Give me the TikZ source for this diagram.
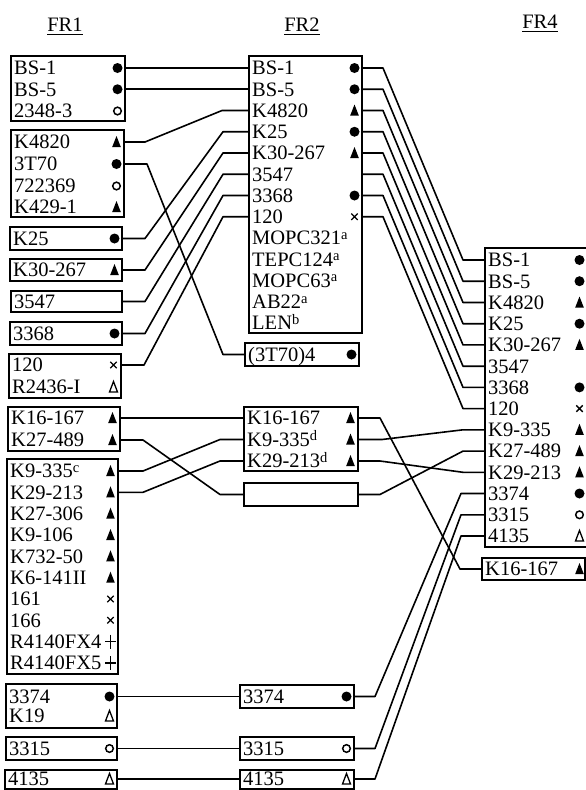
\documentclass[tikz,border=0pt]{standalone}
\usepackage{fontspec}
\setmainfont{Liberation Serif}
\tikzset{
 frame/.style={draw, line width=1.8pt, inner sep=0pt, outer sep=0pt, rectangle},
 lab/.style={anchor=base west, inner sep=0pt, font=\fontsize{20.5}{22}\selectfont},
 hdr/.style={anchor=base, inner sep=0pt, font=\fontsize{20.5}{22}\selectfont},
 wire/.style={line width=1.6pt, line join=round},
 fcirc/.pic={\fill (0,0) circle (5);},
 ocirc/.pic={\draw[line width=1.5pt] (0,0) circle (3.8);},
 ftri/.pic={\fill (-4.3,5) -- (4.3,5) -- (0,-6) -- cycle;},
 otri/.pic={\draw[line width=1.3pt, line join=miter] (-4,5) -- (4,5) -- (0,-5.5) -- cycle;},
 xmk/.pic={\draw[line width=1.3pt] (-3.2,-3.2) -- (3.2,3.2) (-3.2,3.2) -- (3.2,-3.2);},
 pmk/.pic={\draw[line width=1.5pt] (-5.5,0) -- (5.5,0) (0,-7) -- (0,7);},
 nosym/.pic={},
}
\newcommand\frbox[5]{\node[frame, minimum width={#4-#2}, minimum height={#5-#3}] (#1) at ({(#2+#4)/2},{(#3+#5)/2}) {};}
\newcommand\ritem[6]{%
  \node[lab] (#1) at ({#2+3},{#4+6.8}) {#5};
  \coordinate (#1-l) at (#2,#4);
  \coordinate (#1-r) at (#3,#4);
  \pic at ({#3-7.5},#4) {#6};}
\newcommand\supx[1]{\raisebox{5.5pt}[0pt][0pt]{\fontsize{14.5}{14}\selectfont #1}}
\begin{document}
\begin{tikzpicture}[x=1pt,y=-1pt]
\clip (0,0) rectangle (586,790);
\fill[white] (0,0) rectangle (586,790);
% headers
\node[hdr] (h1) at (65,31) {FR1};
\node[hdr] (h2) at (302,31) {FR2};
\node[hdr] (h4) at (540,28) {FR4};
\foreach \h in {h1,h2,h4} \draw[line width=1.9pt] ([yshift=-3.5pt]\h.base west) -- ([yshift=-3.5pt]\h.base east);
% ---------- FR1
\frbox{A1}{11}{56}{125}{121}
\frbox{A2}{11}{130}{124}{217}
\frbox{A3}{10}{227}{122}{250}
\frbox{A4}{10}{259}{122}{281}
\frbox{A5}{11}{291}{122}{312}
\frbox{A6}{10}{322}{122}{345}
\frbox{A7}{9}{354}{121}{398}
\frbox{A8}{8}{407}{120}{451}
\frbox{A9}{7}{459}{118}{674}
\frbox{A10}{6}{684}{117}{728}
\frbox{A11}{6}{737}{117}{760}
\frbox{A12}{5}{770}{117}{789}
\ritem{a-bs1}{11}{125}{68}{BS-1}{fcirc}
\ritem{a-bs5}{11}{125}{89.25}{BS-5}{fcirc}
\ritem{a-2348}{11}{125}{111}{2348-3}{ocirc}
\ritem{a-k4820}{11}{124}{142}{K4820}{ftri}
\ritem{a-3t70}{11}{124}{164}{3T70}{fcirc}
\ritem{a-722369}{11}{124}{186}{722369}{ocirc}
\ritem{a-k429}{11}{124}{207}{K429-1}{ftri}
\ritem{a-k25}{10}{122}{238.5}{K25}{fcirc}
\ritem{a-k30}{10}{122}{270}{K30-267}{ftri}
\ritem{a-3547}{11}{122}{301.5}{3547}{nosym}
\ritem{a-3368}{10}{122}{333.5}{3368}{fcirc}
\ritem{a-120}{9}{121}{365}{120}{xmk}
\ritem{a-r2436}{9}{121}{387}{R2436-I}{otri}
\ritem{a-k16}{8}{120}{418}{K16-167}{ftri}
\ritem{a-k27489}{8}{120}{440}{K27-489}{ftri}
\ritem{a-k9335}{7}{118}{471}{K9-335\supx{c}}{ftri}
\ritem{a-k29213}{7}{118}{492.3}{K29-213}{ftri}
\ritem{a-k27306}{7}{118}{513.7}{K27-306}{ftri}
\ritem{a-k9106}{7}{118}{535}{K9-106}{ftri}
\ritem{a-k732}{7}{118}{556.3}{K732-50}{ftri}
\ritem{a-k6}{7}{118}{577.7}{K6-141II}{ftri}
\ritem{a-161}{7}{118}{599}{161}{xmk}
\ritem{a-166}{7}{118}{620.3}{166}{xmk}
\ritem{a-r4}{7}{118}{641.7}{R4140FX4}{pmk}
\ritem{a-r5}{7}{118}{663}{R4140FX5}{pmk}
\ritem{a-3374}{6}{117}{696.5}{3374}{fcirc}
\ritem{a-k19}{6}{117}{716}{K19}{otri}
\ritem{a-3315}{6}{117}{748.5}{3315}{ocirc}
\ritem{a-4135}{5}{117}{779}{4135}{otri}
% ---------- FR2
\frbox{B1}{249}{56}{362}{333}
\ritem{b-bs1}{249}{362}{68}{BS-1}{fcirc}
\ritem{b-bs5}{249}{362}{89.25}{BS-5}{fcirc}
\ritem{b-k4820}{249}{362}{110.5}{K4820}{ftri}
\ritem{b-k25}{249}{362}{131.75}{K25}{fcirc}
\ritem{b-k30}{249}{362}{153}{K30-267}{ftri}
\ritem{b-3547}{249}{362}{174.25}{3547}{nosym}
\ritem{b-3368}{249}{362}{195.5}{3368}{fcirc}
\ritem{b-120}{249}{362}{216.75}{120}{xmk}
\ritem{b-mopc321}{249}{362}{238}{MOPC321\supx{a}}{nosym}
\ritem{b-tepc}{249}{362}{259.25}{TEPC124\supx{a}}{nosym}
\ritem{b-mopc63}{249}{362}{280.5}{MOPC63\supx{a}}{nosym}
\ritem{b-ab22}{249}{362}{301.75}{AB22\supx{a}}{nosym}
\ritem{b-len}{249}{362}{323}{LEN\supx{b}}{nosym}
\frbox{B2}{245}{343}{359}{366}
\ritem{b-3t70}{245}{359}{354.5}{(3T70)4}{fcirc}
\frbox{B3}{244}{407}{358}{471}
\ritem{b-k16}{244}{358}{418}{K16-167}{ftri}
\ritem{b-k9335}{244}{358}{439.5}{K9-335\supx{d}}{ftri}
\ritem{b-k29213}{244}{358}{461}{K29-213\supx{d}}{ftri}
\frbox{B4}{244}{483}{358}{506}
\ritem{b-empty}{244}{358}{494.5}{}{nosym}
\frbox{B5}{240}{685}{354}{708}
\ritem{b-3374}{240}{354}{696.5}{3374}{fcirc}
\frbox{B6}{240}{737}{354}{760}
\ritem{b-3315}{240}{354}{748.5}{3315}{ocirc}
\frbox{B7}{240}{770}{354}{789}
\ritem{b-4135}{240}{354}{779}{4135}{otri}
% ---------- FR4
\frbox{C1}{485}{248}{590}{547}
\ritem{c-bs1}{485}{587}{260}{BS-1}{fcirc}
\ritem{c-bs5}{485}{587}{281.2}{BS-5}{fcirc}
\ritem{c-k4820}{485}{587}{302.5}{K4820}{ftri}
\ritem{c-k25}{485}{587}{323.7}{K25}{fcirc}
\ritem{c-k30}{485}{587}{344.9}{K30-267}{ftri}
\ritem{c-3547}{485}{587}{366.2}{3547}{nosym}
\ritem{c-3368}{485}{587}{387.4}{3368}{fcirc}
\ritem{c-120}{485}{587}{408.6}{120}{xmk}
\ritem{c-k9335}{485}{587}{429.8}{K9-335}{ftri}
\ritem{c-k27489}{485}{587}{451.1}{K27-489}{ftri}
\ritem{c-k29213}{485}{587}{472.3}{K29-213}{ftri}
\ritem{c-3374}{485}{587}{493.5}{3374}{fcirc}
\ritem{c-3315}{485}{587}{514.8}{3315}{ocirc}
\ritem{c-4135}{485}{587}{536}{4135}{otri}
\frbox{C2}{482}{558}{585}{580}
\ritem{c-k16}{482}{587}{569}{K16-167}{ftri}
% ---------- connectors FR1 -> FR2
\draw[wire] (a-bs1-r) -- (b-bs1-l);
\draw[wire] (a-bs5-r) -- (b-bs5-l);
\draw[wire] (a-k4820-r) -- ++(21,0) -- ([xshift=-27pt]b-k4820-l) -- (b-k4820-l);
\draw[wire] (a-3t70-r) -- ++(23,0) -- ([xshift=-22pt]b-3t70-l) -- (b-3t70-l);
\foreach \n in {k25,k30,3547,3368,120}
  \draw[wire] (a-\n-r) -- ++(23,0) -- ([xshift=-26pt]b-\n-l) -- (b-\n-l);
\draw[wire] (a-k16-r) -- (b-k16-l);
\draw[wire] (a-k27489-r) -- ++(23,0) -- ([xshift=-24pt]b-empty-l) -- (b-empty-l);
\draw[wire] (a-k9335-r) -- ++(25,0) -- ([xshift=-24pt]b-k9335-l) -- (b-k9335-l);
\draw[wire] (a-k29213-r) -- ++(25,0) -- ([xshift=-24pt]b-k29213-l) -- (b-k29213-l);
\foreach \n in {3374,3315,4135}
  \draw[wire] (a-\n-r) -- (b-\n-l);
% ---------- connectors FR2 -> FR4
\foreach \n in {bs1,bs5,k4820,k25,k30,3547,3368,120}
  \draw[wire] (b-\n-r) -- ++(21,0) -- ([xshift=-22pt]c-\n-l) -- (c-\n-l);
\draw[wire] (b-k16-r) -- ++(22,0) -- ([xshift=-22pt]c-k16-l) -- (c-k16-l);
\draw[wire] (b-k9335-r) -- ++(24,0) -- ([xshift=-22pt]c-k9335-l) -- (c-k9335-l);
\draw[wire] (b-k29213-r) -- ++(22,0) -- ([xshift=-22pt]c-k29213-l) -- (c-k29213-l);
\draw[wire] (b-empty-r) -- ++(22,0) -- ([xshift=-22pt]c-k27489-l) -- (c-k27489-l);
\foreach \n in {3374,3315,4135}
  \draw[wire] (b-\n-r) -- ++(21,0) -- ([xshift=-24pt]c-\n-l) -- (c-\n-l);
\end{tikzpicture}
\end{document}
